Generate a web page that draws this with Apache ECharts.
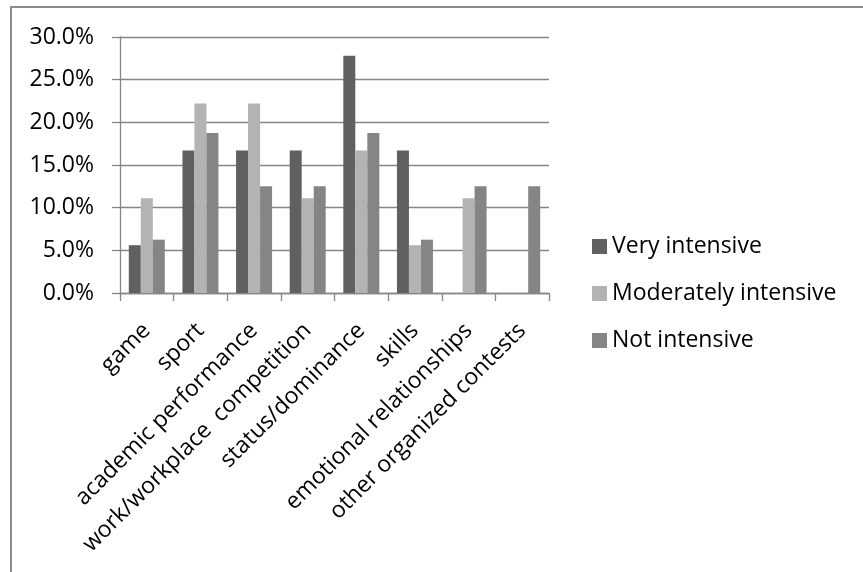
<!DOCTYPE html>
<html>
<head>
<meta charset="utf-8">
<script src="https://cdn.jsdelivr.net/npm/echarts@6/dist/echarts.min.js"></script>
<style>
  html, body { margin: 0; padding: 0; background: #fff; }
  #chart { width: 863px; height: 572px; }
</style>
</head>
<body>
<div id="chart"></div>
<script>
// Share of responses per competition context, by intensity level (%)
const categories = [
  'game', 'sport', 'academic performance', 'work/workplace  competition',
  'status/dominance', 'skills', 'emotional relationships', 'other organized contests'
];
const seriesNames = ['Very intensive', 'Moderately intensive', 'Not intensive'];
const veryIntensive       = [5.6, 16.7, 16.7, 16.7, 27.8, 16.7, 0, 0];
const moderatelyIntensive = [11.1, 22.2, 22.2, 11.1, 16.7, 5.6, 11.1, 0];
const notIntensive        = [6.25, 18.75, 12.5, 12.5, 18.75, 6.25, 12.5, 12.5];
const yTicks = [0, 5, 10, 15, 20, 25, 30];

const FONT = '"Open Sans"';
const FONT_SIZE = 23;
const GRID_GRAY = '#868686';
const colors = ['#606060', '#b3b3b3', '#858585'];
const values = [veryIntensive, moderatelyIntensive, notIntensive];

const chart = echarts.init(document.getElementById('chart'), null, { renderer: 'canvas' });

chart.setOption({
  animation: false,
  backgroundColor: '#fff',
  color: colors,
  textStyle: { fontFamily: FONT },
  graphic: [{
    type: 'rect',
    shape: { x: 11, y: 7, width: 900, height: 600 },
    style: { fill: 'none', stroke: '#8c8c8c', lineWidth: 2 },
    silent: true
  }],
  grid: { left: 120, right: 314, top: 37, bottom: 279, containLabel: false },
  legend: {
    orient: 'vertical',
    left: 587,
    top: 230,
    padding: 5,
    icon: 'rect',
    itemWidth: 15,
    itemHeight: 15,
    itemGap: 24,
    data: seriesNames,
    textStyle: { fontFamily: FONT, fontSize: FONT_SIZE, color: '#000' }
  },
  xAxis: {
    type: 'category',
    data: categories,
    axisLine: { show: true, lineStyle: { color: GRID_GRAY, width: 1.3 } },
    axisTick: { show: true, length: 8, alignWithLabel: false, lineStyle: { color: GRID_GRAY, width: 1.3 } },
    axisLabel: {
      interval: 0,
      rotate: 45,
      margin: 34,
      fontFamily: FONT,
      fontSize: FONT_SIZE,
      color: '#000'
    }
  },
  yAxis: {
    type: 'value',
    min: yTicks[0],
    max: yTicks[yTicks.length - 1],
    interval: yTicks[1] - yTicks[0],
    axisLine: { show: true, lineStyle: { color: GRID_GRAY, width: 1.3 } },
    axisTick: { show: true, length: 8, lineStyle: { color: GRID_GRAY, width: 1.3 } },
    splitLine: { show: true, lineStyle: { color: GRID_GRAY, width: 1.3 } },
    axisLabel: {
      margin: 26,
      fontFamily: FONT,
      fontSize: FONT_SIZE,
      color: '#000',
      formatter: v => v.toFixed(1) + '%'
    }
  },
  series: seriesNames.map((name, i) => ({
    name: name,
    type: 'bar',
    data: values[i],
    barWidth: 12,
    barGap: '0%',
    itemStyle: { color: colors[i] }
  }))
});
</script>
</body>
</html>
